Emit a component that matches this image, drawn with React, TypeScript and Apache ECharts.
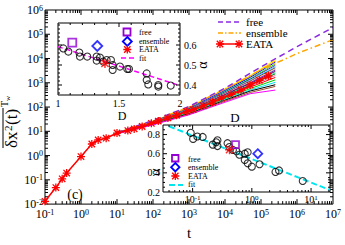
import React, { useEffect, useRef } from 'react';
import * as echarts from 'echarts';

const SERIF = '"Liberation Serif", "Times New Roman", serif';

// ---------------- main plot data ----------------
const eataT = [0.1, 0.2, 0.3, 0.4, 1, 2, 3, 5, 10, 20, 30, 50, 90, 140, 260, 450, 870, 1300, 2500, 4500, 8000, 15000, 28000, 50000, 90000, 160000];
const eataY = [0.013, 0.048, 0.11, 0.19, 0.91, 3.0, 4.4, 5.2, 8.5, 10.7, 12.6, 15.8, 21.4, 26.3, 35.5, 45.7, 66, 79, 112, 158, 234, 331, 501, 794, 1259, 1905];

const freeT = [10, 100, 1000, 10000, 100000, 1000000, 10000000];
const freeY = [8.9, 28, 105, 600, 4500, 31000, 190000];
const ensT = [10, 100, 1000, 10000, 100000, 1000000, 10000000];
const ensY = [8.9, 27, 100, 560, 3400, 16000, 60000];

const fanT = [10, 100, 1000, 10000, 50000, 250000];
const fanY = [
  [8.9, 26.3, 100, 562, 1995, 8913],
  [8.9, 25.7, 95.5, 525, 1862, 7943],
  [8.7, 25.1, 89.1, 479, 1660, 7079],
  [8.7, 24.5, 85.1, 437, 1479, 6026],
  [8.7, 24.0, 83.2, 417, 1380, 5248],
  [8.5, 23.4, 79.4, 389, 1259, 4677],
  [8.5, 23.4, 77.6, 372, 1175, 4169],
  [8.5, 22.9, 74.1, 347, 1072, 3631],
  [8.5, 22.4, 72.4, 331, 1000, 3311],
  [8.5, 22.4, 70.8, 316, 933, 2951],
  [8.3, 21.9, 67.6, 295, 851, 2630],
  [8.3, 21.4, 66.1, 282, 794, 2344],
  [8.3, 21.4, 64.6, 263, 724, 1995],
  [8.3, 20.9, 61.7, 245, 661, 1660],
  [8.3, 20.4, 58.9, 224, 575, 1318],
  [8.1, 20.0, 56.2, 204, 501, 1047],
  [8.1, 19.5, 53.7, 191, 457, 832],
  [8.1, 19.1, 50.1, 174, 398, 708],
  [7.9, 18.6, 47.9, 158, 355, 501],
];
const fanColors = ['#ffff00', '#ffa500', '#0000ff', '#00ff00', '#9400d3', '#00ffff', '#a52a2a', '#bebebe', '#7221bc', '#670748', '#40e0d0', '#008b00', '#ff69b4', '#ff0000', '#00cc00', '#00e5ee', '#000000', '#a0522d', '#ff00ff'];

const mainXTicks = [-1, 0, 1, 2, 3, 4, 5, 6, 7];
const mainYTicks = [-2, -1, 0, 1, 2, 3, 4, 5, 6];

// ---------------- inset 1 (alpha vs D, linear) ----------------
const in1D = [1.044, 1.085, 1.175, 1.18, 1.24, 1.317, 1.317, 1.344, 1.371, 1.399, 1.434, 1.448, 1.448, 1.508, 1.568, 1.582, 1.727, 1.727, 1.74, 1.822, 1.822, 1.924];
const in1A = [0.583, 0.567, 0.562, 0.542, 0.542, 0.542, 0.522, 0.537, 0.517, 0.525, 0.525, 0.5, 0.475, 0.492, 0.48, 0.48, 0.458, 0.425, 0.403, 0.4, 0.392, 0.397];
const in1Free = [1.117, 0.612];
const in1Ens = [1.322, 0.595];
const in1Eata = [1.385, 0.508];
const in1FitD = [1.0, 2.0];
const in1FitA = [0.592, 0.397];

// ---------------- inset 2 (alpha vs D, log x) ----------------
const in2D = [0.093, 0.102, 0.12, 0.148, 0.219, 0.251, 0.263, 0.263, 0.389, 0.417, 0.479, 0.55, 0.617, 0.759, 0.851, 0.759, 0.851, 1.0, 1.35, 2.51, 2.88, 7.24];
const in2A = [0.818, 0.755, 0.78, 0.775, 0.695, 0.72, 0.68, 0.74, 0.71, 0.67, 0.64, 0.625, 0.59, 0.6, 0.615, 0.535, 0.5, 0.465, 0.49, 0.41, 0.425, 0.315];
const in2Free = [0.53, 0.695];
const in2Ens = [1.26, 0.6];
const in2Eata = [0.42, 0.642];
const in2FitD = [0.04, 21];
const in2FitA = [0.887, 0.22];

const PURPLE = '#9400d3';
const FREE_LINE = '#8a2be2';
const ASTERISK_D = 'M4.2,0H5.8V10H4.2Z M0,4.2H10V5.8H0Z M1.566,0.434L9.566,8.434L8.434,9.566L0.434,1.566Z M8.434,0.434L9.566,1.566L1.566,9.566L0.434,8.434Z';
const ASTERISK = 'path://' + ASTERISK_D;

echarts.graphic.registerShape('asterisk', echarts.graphic.extendPath(ASTERISK_D, {}));

const lg = (v: number) => Math.log10(v);
const logPts = (xs: number[], ys: number[]) => xs.map((x, i) => [lg(x), lg(ys[i])]);
const linPts = (xs: number[], ys: number[]) => xs.map((x, i) => [x, ys[i]]);
const logXPts = (xs: number[], ys: number[]) => xs.map((x, i) => [lg(x), ys[i]]);

const minorLog = (from: number, to: number, lo: number, hi: number) => {
  const out: number[] = [];
  for (let n = from; n < to; n++) for (let k = 2; k <= 9; k++) {
    const v = n + Math.log10(k);
    if (v > lo && v < hi) out.push(v);
  }
  return out;
};
const steps = (a: number, b: number, s: number, skip: number[]) => {
  const out: number[] = [];
  for (let i = 0; a + i * s <= b + 1e-9; i++) {
    const v = +(a + i * s).toFixed(4);
    if (!skip.some((k) => Math.abs(k - v) < 1e-6)) out.push(v);
  }
  return out;
};

function tickSeries(idx: number, xMaj: number[], xMin: number[], yMaj: number[], yMin: number[], lMaj: number, lMin: number, z: number) {
  const data: number[][] = [];
  xMaj.forEach((v) => data.push([0, v, lMaj]));
  xMin.forEach((v) => data.push([0, v, lMin]));
  yMaj.forEach((v) => data.push([1, v, lMaj]));
  yMin.forEach((v) => data.push([1, v, lMin]));
  return {
    type: 'custom',
    xAxisIndex: idx,
    yAxisIndex: idx,
    z,
    silent: true,
    data,
    renderItem: (params: any, api: any) => {
      const kind = api.value(0);
      const v = api.value(1);
      const len = api.value(2);
      const cs = params.coordSys;
      const st = { stroke: '#000', lineWidth: 1 };
      if (kind === 0) {
        const px = api.coord([v, 0])[0];
        const b = cs.y + cs.height;
        return {
          type: 'group',
          children: [
            { type: 'line', shape: { x1: px, y1: b, x2: px, y2: b - len }, style: st },
            { type: 'line', shape: { x1: px, y1: cs.y, x2: px, y2: cs.y + len }, style: st },
          ],
        };
      }
      const py = api.coord([0, v])[1];
      const r = cs.x + cs.width;
      return {
        type: 'group',
        children: [
          { type: 'line', shape: { x1: cs.x, y1: py, x2: cs.x + len, y2: py }, style: st },
          { type: 'line', shape: { x1: r, y1: py, x2: r - len, y2: py }, style: st },
        ],
      };
    },
  };
}

const richBig = {
  b: { fontFamily: SERIF, fontSize: 12, color: '#000', lineHeight: 12, padding: [3, 0, 0, 0], verticalAlign: 'bottom' },
  s: { fontFamily: SERIF, fontSize: 8, color: '#000', lineHeight: 8, verticalAlign: 'top' },
};
const richSmall = {
  b: { fontFamily: SERIF, fontSize: 10, color: '#000', lineHeight: 10, padding: [3, 0, 0, 0], verticalAlign: 'bottom' },
  s: { fontFamily: SERIF, fontSize: 7, color: '#000', lineHeight: 7, verticalAlign: 'top' },
};
const powLabel = (v: number) => {
  const r = Math.round(v);
  if (Math.abs(v - r) > 1e-6) return '';
  return `{b|10}{s|${r}}`;
};

const noAxis = { axisLine: { show: false }, axisTick: { show: false }, splitLine: { show: false } };

function star(cx: number, cy: number, s: number, z = 20) {
  return { type: 'asterisk', x: cx - s / 2, y: cy - s / 2, scaleX: s / 10, scaleY: s / 10, style: { fill: '#ff0000' }, z };
}
function txt(x: number, y: number, text: string, size: number, extra: any = {}) {
  return { type: 'text', x, y, z: 20, style: { text, font: `${size}px ${SERIF}`, fill: '#000', textVerticalAlign: 'middle', textAlign: 'left', ...extra } };
}

function buildOption(): any {
  const series: any[] = [];
  fanY.forEach((ys, i) => {
    series.push({
      type: 'line', xAxisIndex: 0, yAxisIndex: 0, data: logPts(fanT, ys), showSymbol: false, symbol: 'none', z: 2,
      lineStyle: { color: fanColors[i], width: 1 }, itemStyle: { color: fanColors[i] },
    });
  });
  series.push({ name: 'ensemble', type: 'line', xAxisIndex: 0, yAxisIndex: 0, data: logPts(ensT, ensY), symbol: 'none', z: 3,
    lineStyle: { color: '#ffa500', width: 1.5, type: [6, 3, 1.5, 3] } });
  series.push({ name: 'free', type: 'line', xAxisIndex: 0, yAxisIndex: 0, data: logPts(freeT, freeY), symbol: 'none', z: 3,
    lineStyle: { color: FREE_LINE, width: 1.5, type: [6, 4] } });
  series.push({ name: 'EATA', type: 'line', xAxisIndex: 0, yAxisIndex: 0, data: logPts(eataT, eataY), symbol: ASTERISK, symbolSize: 8, z: 4,
    lineStyle: { color: '#ff0000', width: 1.5 }, itemStyle: { color: '#ff0000' } });
  series.push(tickSeries(0, mainXTicks.slice(1, -1), minorLog(-1, 7, -1, 7), mainYTicks.slice(1, -1), minorLog(-2, 6, -2, 6), 5, 3, 4));

  // inset 1
  series.push({ type: 'line', xAxisIndex: 1, yAxisIndex: 1, data: linPts(in1FitD, in1FitA), symbol: 'none', z: 5,
    lineStyle: { color: '#ff00ff', width: 1.5, type: [5, 3] } });
  series.push({ type: 'scatter', xAxisIndex: 1, yAxisIndex: 1, data: linPts(in1D, in1A), symbol: 'circle', symbolSize: 7, z: 6,
    itemStyle: { color: 'rgba(0,0,0,0)', borderColor: '#000', borderWidth: 1.1 } });
  series.push({ type: 'scatter', xAxisIndex: 1, yAxisIndex: 1, data: [in1Free], symbol: 'rect', symbolSize: 8, z: 7,
    itemStyle: { color: 'rgba(0,0,0,0)', borderColor: PURPLE, borderWidth: 1.8 } });
  series.push({ type: 'scatter', xAxisIndex: 1, yAxisIndex: 1, data: [in1Ens], symbol: 'diamond', symbolSize: 10, z: 7,
    itemStyle: { color: 'rgba(0,0,0,0)', borderColor: '#0000ff', borderWidth: 1.8 } });
  series.push({ type: 'scatter', xAxisIndex: 1, yAxisIndex: 1, data: [in1Eata], symbol: ASTERISK, symbolSize: 9, z: 7,
    itemStyle: { color: '#ff0000' } });
  series.push(tickSeries(1, [1.5], steps(1.1, 1.9, 0.1, [1.5]), [0.4, 0.5, 0.6], steps(0.36, 0.7, 0.02, [0.4, 0.5, 0.6]), 4, 2, 8));

  // inset 2
  series.push({ type: 'line', xAxisIndex: 2, yAxisIndex: 2, data: logXPts(in2FitD, in2FitA), symbol: 'none', z: 5,
    lineStyle: { color: '#00e5ee', width: 2, type: [6, 3] } });
  series.push({ type: 'scatter', xAxisIndex: 2, yAxisIndex: 2, data: logXPts(in2D, in2A), symbol: 'circle', symbolSize: 7, z: 6,
    itemStyle: { color: 'rgba(0,0,0,0)', borderColor: '#000', borderWidth: 1.1 } });
  series.push({ type: 'scatter', xAxisIndex: 2, yAxisIndex: 2, data: [logXPts([in2Free[0]], [in2Free[1]])[0]], symbol: 'rect', symbolSize: 7, z: 7,
    itemStyle: { color: 'rgba(0,0,0,0)', borderColor: PURPLE, borderWidth: 1.8 } });
  series.push({ type: 'scatter', xAxisIndex: 2, yAxisIndex: 2, data: [logXPts([in2Ens[0]], [in2Ens[1]])[0]], symbol: 'diamond', symbolSize: 9, z: 7,
    itemStyle: { color: 'rgba(0,0,0,0)', borderColor: '#0000ff', borderWidth: 1.8 } });
  series.push({ type: 'scatter', xAxisIndex: 2, yAxisIndex: 2, data: [logXPts([in2Eata[0]], [in2Eata[1]])[0]], symbol: ASTERISK, symbolSize: 9, z: 7,
    itemStyle: { color: '#ff0000' } });
  series.push(tickSeries(2, [-1, 0, 1], minorLog(-2, 2, -1.5, 1.32), [0.4, 0.6, 0.8], steps(0.25, 0.85, 0.05, [0.4, 0.6, 0.8]), 4, 2, 8));

  const graphic: any[] = [
    // main legend
    { type: 'line', z: 20, shape: { x1: 218, y1: 22, x2: 241, y2: 22 }, style: { stroke: FREE_LINE, lineWidth: 1.5, lineDash: [5, 3] } },
    txt(246, 22, 'free', 11),
    { type: 'line', z: 20, shape: { x1: 218, y1: 33, x2: 241, y2: 33 }, style: { stroke: '#ffa500', lineWidth: 1.5, lineDash: [5, 2, 1.5, 2] } },
    txt(246, 33, 'ensemble', 11),
    { type: 'line', z: 20, shape: { x1: 219, y1: 44, x2: 240, y2: 44 }, style: { stroke: '#ff0000', lineWidth: 1.5 } },
    star(220, 44, 8), star(239, 44, 8),
    txt(246, 44, 'EATA', 11),
    // inset 1 legend
    { type: 'rect', z: 20, shape: { x: 123.5, y: 28.5, width: 7, height: 7 }, style: { fill: 'none', stroke: PURPLE, lineWidth: 1.8 } },
    txt(139, 32, 'free', 8),
    { type: 'polygon', z: 20, shape: { points: [[127.3, 37], [131.8, 41.5], [127.3, 46], [122.8, 41.5]] }, style: { fill: 'none', stroke: '#0000ff', lineWidth: 1.8 } },
    txt(139, 41, 'ensemble', 8),
    star(127.3, 49.5, 8),
    txt(139, 49.5, 'EATA', 8),
    { type: 'line', z: 20, shape: { x1: 121, y1: 58, x2: 134, y2: 58 }, style: { stroke: '#ff00ff', lineWidth: 1.5, lineDash: [5, 3] } },
    txt(139, 58, 'fit', 8),
    // inset 2 legend
    { type: 'rect', z: 20, shape: { x: 172, y: 155, width: 6.5, height: 6.5 }, style: { fill: 'none', stroke: PURPLE, lineWidth: 1.8 } },
    txt(188, 159, 'free', 8),
    { type: 'polygon', z: 20, shape: { points: [[175.3, 163], [179.5, 167.2], [175.3, 171.4], [171.1, 167.2]] }, style: { fill: 'none', stroke: '#0000ff', lineWidth: 1.8 } },
    txt(188, 167.5, 'ensemble', 8),
    star(175.3, 176, 8),
    txt(188, 176, 'EATA', 8),
    { type: 'line', z: 20, shape: { x1: 169, y1: 185, x2: 183, y2: 185 }, style: { stroke: '#00e5ee', lineWidth: 2, lineDash: [6, 3] } },
    txt(188, 184.5, 'fit', 8),
    // labels
    txt(122, 116, 'D', 12, { textAlign: 'center' }),
    txt(235, 117, 'D', 13, { textAlign: 'center' }),
    { ...txt(202, 65, 'α', 14, { textAlign: 'center' }), rotation: Math.PI / 2 },
    { ...txt(155, 172, 'α', 14, { textAlign: 'center' }), rotation: Math.PI / 2 },
    txt(75, 194, '(c)', 14, { textAlign: 'center' }),
    // main y-axis title
    {
      type: 'group', x: 20, y: 148, rotation: Math.PI / 2, z: 20,
      children: [
        { type: 'text', x: 0, y: 0, style: { text: 'δx', font: `17px ${SERIF}`, fill: '#000', textVerticalAlign: 'bottom' } },
        { type: 'text', x: 17, y: -7, style: { text: '2', font: `11px ${SERIF}`, fill: '#000', textVerticalAlign: 'bottom' } },
        { type: 'text', x: 23, y: 0, style: { text: '(t)', font: `17px ${SERIF}`, fill: '#000', textVerticalAlign: 'bottom' } },
        { type: 'line', shape: { x1: 0, y1: -17, x2: 40, y2: -17 }, style: { stroke: '#000', lineWidth: 1 } },
        { type: 'text', x: 41, y: -11, style: { text: 'T', font: `10px ${SERIF}`, fill: '#000', textVerticalAlign: 'bottom' } },
        { type: 'text', x: 47, y: -9, style: { text: 'w', font: `7px ${SERIF}`, fill: '#000', textVerticalAlign: 'bottom' } },
      ],
    },
  ];

  return {
    animation: false,
    backgroundColor: '#fff',
    grid: [
      { left: 45, top: 10, width: 288, height: 200, show: true, borderColor: '#000', borderWidth: 1, backgroundColor: 'transparent', z: 1 },
      { left: 58, top: 23, width: 122, height: 72, show: true, borderColor: '#000', borderWidth: 1, backgroundColor: '#fff', z: 3 },
      { left: 163, top: 125, width: 167, height: 67, show: true, borderColor: '#000', borderWidth: 1, backgroundColor: '#fff', z: 3 },
    ],
    xAxis: [
      { gridIndex: 0, type: 'value', min: -1, max: 7, interval: 1, ...noAxis,
        axisLabel: { margin: 4, formatter: powLabel, rich: richBig },
        name: 't', nameLocation: 'middle', nameGap: 20, nameTextStyle: { fontFamily: SERIF, fontSize: 15, color: '#000' } },
      { gridIndex: 1, type: 'value', min: 1, max: 2, interval: 0.5, ...noAxis,
        axisLabel: { margin: 3, fontFamily: SERIF, fontSize: 10, color: '#000' } },
      { gridIndex: 2, type: 'value', min: -1.5, max: 1.32, interval: 0.5, ...noAxis,
        axisLabel: { margin: 2, formatter: powLabel, rich: richSmall } },
    ],
    yAxis: [
      { gridIndex: 0, type: 'value', min: -2, max: 6, interval: 1, ...noAxis,
        axisLabel: { margin: 2, formatter: powLabel, rich: richBig } },
      { gridIndex: 1, type: 'value', position: 'right', min: 0.35, max: 0.71, interval: 0.05, ...noAxis,
        axisLabel: { margin: 4, fontFamily: SERIF, fontSize: 10, color: '#000',
          formatter: (v: number) => { const r = Math.round(v * 10) / 10; return Math.abs(v - r) < 1e-6 && r >= 0.39 && r <= 0.61 ? r.toFixed(1) : ''; } } },
      { gridIndex: 2, type: 'value', min: 0.2, max: 0.9, interval: 0.2, ...noAxis,
        axisLabel: { margin: 3, fontFamily: SERIF, fontSize: 10, color: '#000',
          formatter: (v: number) => (v < 0.85 ? v.toFixed(1) : '') } },
    ],
    series,
    graphic,
  };
}

export default function App() {
  const ref = useRef<HTMLDivElement>(null);
  useEffect(() => {
    document.body.style.margin = '0';
    const chart = echarts.init(ref.current as HTMLDivElement, null, { renderer: 'svg' });
    chart.setOption(buildOption());
    return () => chart.dispose();
  }, []);
  return <div ref={ref} style={{ width: 345, height: 245 }} />;
}
